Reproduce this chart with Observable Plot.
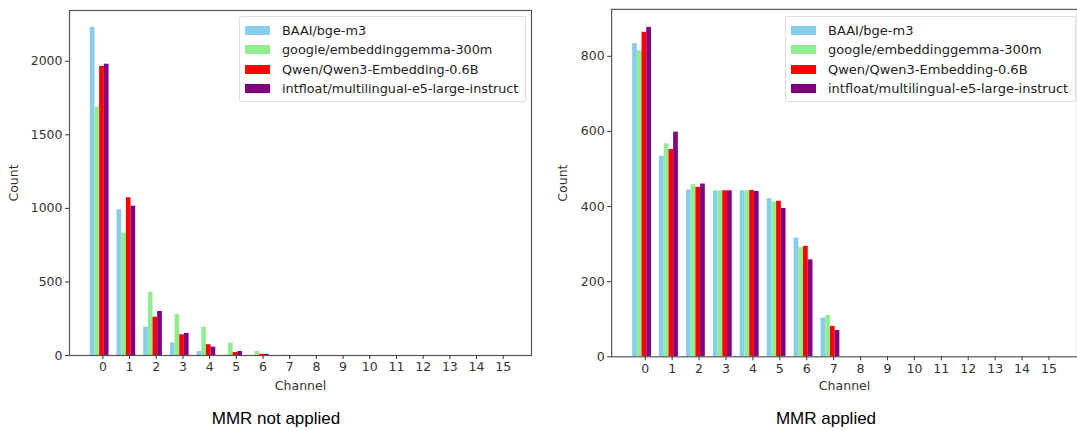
<!DOCTYPE html>
<html>
<head>
<meta charset="utf-8">
<script src="https://cdn.jsdelivr.net/npm/d3@7"></script>
<script src="https://cdn.jsdelivr.net/npm/@observablehq/plot@0.6"></script>
<style>
  html, body { margin: 0; padding: 0; background: #fff; }
  #wrap { position: relative; width: 1077px; height: 431px; overflow: hidden; }
  .panel { position: absolute; top: 0; }
  .legend { position: absolute; border: 1px solid #ddd; border-radius: 2px; background: rgba(255,255,255,0.85);
            font-family: "DejaVu Sans", sans-serif; color: #222; padding: 4px 7px 3px 5px; }
  .legend .row { display: flex; align-items: center; height: 19.3px; white-space: nowrap; }
  .legend .sw { width: 25px; height: 9px; margin-right: 12px; flex: none; }
  .caption { position: absolute; font-family: "Liberation Sans", Arial, sans-serif; font-size: 17px; color: #000;
             transform: translateX(-50%); white-space: nowrap; }
</style>
</head>
<body>
<div id="wrap"></div>
<script>
const channels = d3.range(16);
const models = ["BAAI/bge-m3", "google/embeddinggemma-300m", "Qwen/Qwen3-Embedding-0.6B", "intfloat/multilingual-e5-large-instruct"];
const colors = ["#87CEEB", "#90EE90", "#FF0000", "#800080"];

// MMR not applied
const notApplied = {
  "BAAI/bge-m3":                              [2230, 990, 192, 86, 27, 3, 0, 0, 0, 0, 0, 0, 0, 0, 0, 0],
  "google/embeddinggemma-300m":               [1690, 832, 430, 279, 192, 84, 27, 3, 0, 0, 0, 0, 0, 0, 0, 0],
  "Qwen/Qwen3-Embedding-0.6B":                [1965, 1072, 260, 141, 73, 20, 8, 0, 0, 0, 0, 0, 0, 0, 0, 0],
  "intfloat/multilingual-e5-large-instruct":  [1980, 1015, 299, 150, 57, 27, 8, 0, 0, 0, 0, 0, 0, 0, 0, 0]
};
// MMR applied
const applied = {
  "BAAI/bge-m3":                              [834, 534, 444, 442, 442, 421, 316, 103, 0, 0, 0, 0, 0, 0, 0, 0],
  "google/embeddinggemma-300m":               [815, 567, 458, 442, 442, 412, 291, 110, 0, 0, 0, 0, 0, 0, 0, 0],
  "Qwen/Qwen3-Embedding-0.6B":                [864, 552, 451, 442, 443, 414, 294, 81, 0, 0, 0, 0, 0, 0, 0, 0],
  "intfloat/multilingual-e5-large-instruct":  [877, 598, 460, 442, 440, 395, 258, 70, 0, 0, 0, 0, 0, 0, 0, 0]
};
const yTicksLeft = [0, 500, 1000, 1500, 2000];
const yTicksRight = [0, 200, 400, 600, 800];
const xTicks = channels;

const barW = 0.175, groupStart = -0.47;

function rows(obj) {
  const out = [];
  models.forEach((m, i) => obj[m].forEach((v, c) => out.push({
    model: m, channel: c, count: v,
    x1: c + groupStart + i * barW, x2: c + groupStart + (i + 1) * barW
  })));
  return out;
}

function makeChart({data, width, height, mt, mb, ml, mr, ymax, yTicks, fs, yLabelOffset}) {
  return Plot.plot({
    width, height, marginTop: mt, marginBottom: mb, marginLeft: ml, marginRight: mr,
    style: {fontFamily: "DejaVu Sans", fontSize: fs + "px", color: "#222", background: "transparent"},
    x: {domain: [-1.25, 16.06]},
    y: {domain: [0, ymax]},
    color: {domain: models, range: colors},
    marks: [
      Plot.rectY(data, {x1: "x1", x2: "x2", y: "count", fill: "model", inset: 0}),
      Plot.frame({stroke: "#555", strokeWidth: 1.2}),
      Plot.axisX(xTicks, {tickSize: 4, tickPadding: 3, stroke: "#333", fill: "#333", tickFormat: d3.format("d"),
        label: "Channel", labelAnchor: "center", labelArrow: false, labelOffset: 34}),
      Plot.axisY(yTicks, {tickSize: 4, tickPadding: 3, stroke: "#333", fill: "#333", tickFormat: d3.format("d"),
        label: "Count", labelAnchor: "center", labelArrow: false, labelOffset: yLabelOffset})
    ]
  });
}

const wrap = document.getElementById("wrap");

function addPanel(left, chart) {
  const d = document.createElement("div");
  d.className = "panel";
  d.style.left = left + "px";
  d.appendChild(chart);
  wrap.appendChild(d);
}

addPanel(0, makeChart({data: rows(notApplied), width: 540, height: 400, mt: 10, mb: 45, ml: 69, mr: 9,
  ymax: 2345, yTicks: yTicksLeft, fs: 12.5, yLabelOffset: 60}));
addPanel(545, makeChart({data: rows(applied), width: 539, height: 405, mt: 9, mb: 44, ml: 67, mr: 0,
  ymax: 925, yTicks: yTicksRight, fs: 12.7, yLabelOffset: 54}));

function addLegend(left, top, fs) {
  const lg = document.createElement("div");
  lg.className = "legend";
  lg.style.left = left + "px";
  lg.style.top = top + "px";
  lg.style.fontSize = fs + "px";
  models.forEach((m, i) => {
    const r = document.createElement("div");
    r.className = "row";
    const sw = document.createElement("span");
    sw.className = "sw";
    sw.style.background = colors[i];
    const t = document.createElement("span");
    t.textContent = m;
    r.appendChild(sw); r.appendChild(t);
    lg.appendChild(r);
  });
  wrap.appendChild(lg);
}
addLegend(239, 16, 12.8);
addLegend(785, 16, 13);

function addCaption(text, cx, top) {
  const c = document.createElement("div");
  c.className = "caption";
  c.textContent = text;
  c.style.left = cx + "px";
  c.style.top = top + "px";
  wrap.appendChild(c);
}
addCaption("MMR not applied", 276, 409);
addCaption("MMR applied", 826, 409);
</script>
</body>
</html>
